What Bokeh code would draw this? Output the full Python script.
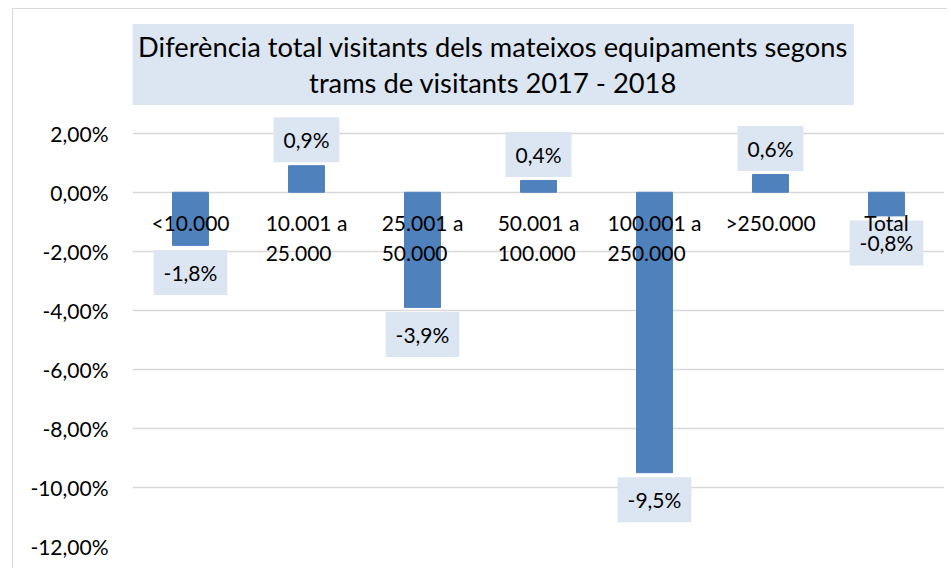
from bokeh.plotting import figure
from bokeh.models import ColumnDataSource, LabelSet, Label, Range1d, FixedTicker
from bokeh.core.properties import value
from bokeh.embed import file_html
from bokeh.resources import INLINE

# ---- data ----
categories = ["<10.000", "10.001 a 25.000", "25.001 a 50.000", "50.001 a 100.000",
              "100.001 a 250.000", ">250.000", "Total"]
category_labels = ["<10.000", "10.001 a\n25.000", "25.001 a\n50.000", "50.001 a\n100.000",
                   "100.001 a\n250.000", ">250.000", "Total"]
values = [-1.8, 0.9, -3.9, 0.4, -9.5, 0.6, -0.8]          # percent
value_labels = ["-1,8%", "0,9%", "-3,9%", "0,4%", "-9,5%", "0,6%", "-0,8%"]
y_ticks = [-12, -10, -8, -6, -4, -2, 0, 2]
y_tick_labels = ["-12,00%", "-10,00%", "-8,00%", "-6,00%", "-4,00%", "-2,00%", "0,00%", "2,00%"]
title_text = "Diferència total visitants dels mateixos equipaments segons\ntrams de visitants 2017 - 2018"

FONT = "Lato"
BAR = "#4F81BD"
BOX = "#DCE6F2"

# ---- geometry (pixels) ----
W, H = 935, 560
BORDER_L, BORDER_R, BORDER_B = 119, 4, 23
FRAME_W = W - BORDER_L - BORDER_R
FRAME_H = H - BORDER_B            # frame runs to the top so the title box is drawn inside it
PX_PER_UNIT = 29.52               # vertical scale: 2 percentage points = ~59 px
y_top = min(y_ticks) + FRAME_H / PX_PER_UNIT

p = figure(x_range=categories, y_range=Range1d(min(y_ticks), y_top),
           width=W, height=H, output_backend="svg", toolbar_location=None,
           min_border_left=BORDER_L, min_border_right=BORDER_R,
           min_border_top=0, min_border_bottom=BORDER_B)
p.margin = (8, 0, 0, 12)
p.styles = {"border-top": "1px solid #D9D9D9", "border-left": "1px solid #D9D9D9"}
p.x_range.range_padding = 0
p.outline_line_color = None
p.background_fill_color = "white"
p.border_fill_color = "white"

p.vbar(x=categories, top=values, bottom=0, width=0.31, color=BAR)

# axes
p.xaxis.visible = False
p.xgrid.grid_line_color = None
p.ygrid.grid_line_color = "#D9D9D9"
p.ygrid.grid_line_width = 1.5
p.yaxis.ticker = FixedTicker(ticks=y_ticks)
p.yaxis.major_label_overrides = {t: l for t, l in zip(y_ticks, y_tick_labels)}
p.yaxis.axis_line_color = None
p.yaxis.major_tick_line_color = None
p.yaxis.minor_tick_line_color = None
p.yaxis.major_tick_in = 0
p.yaxis.major_tick_out = 0
p.yaxis.major_label_standoff = 24
p.yaxis.major_label_text_font = FONT
p.yaxis.major_label_text_font_size = "21px"
p.yaxis.major_label_text_color = "#000000"

# title: boxed, centred lines; box centre 360 px right of the frame's left edge, 55 px below its top
title_x = 360.5 / (FRAME_W / len(categories))
title_y = y_top - 55 / PX_PER_UNIT
p.add_layout(Label(x=title_x, y=title_y, text=title_text,
                   text_align="center", text_baseline="middle",
                   text_font=FONT, text_font_size="27.3px", text_color="#000000",
                   text_line_height=1.09, background_fill_color=BOX, padding=6))

# data labels (boxed); factor i sits at synthetic coordinate i + 0.5
for i, (v, t) in enumerate(zip(values, value_labels)):
    p.add_layout(Label(x=i + 0.5, y=v, text=t, y_offset=26 if v > 0 else -27,
                       text_align="center", text_baseline="middle",
                       text_font=FONT, text_font_size="21px", text_color="#000000",
                       background_fill_color=BOX, padding=10))

# category labels
csrc = ColumnDataSource(dict(x=categories, y=[0] * len(categories), text=category_labels))
p.add_layout(LabelSet(x="x", y="y", text="text", source=csrc, y_offset=-18,
                      text_align="center", text_baseline="top", text_line_height=1.19,
                      text_font=value(FONT), text_font_size=value("21px"),
                      text_color="#000000"))

open("out.html", "w").write(file_html(p, INLINE))
